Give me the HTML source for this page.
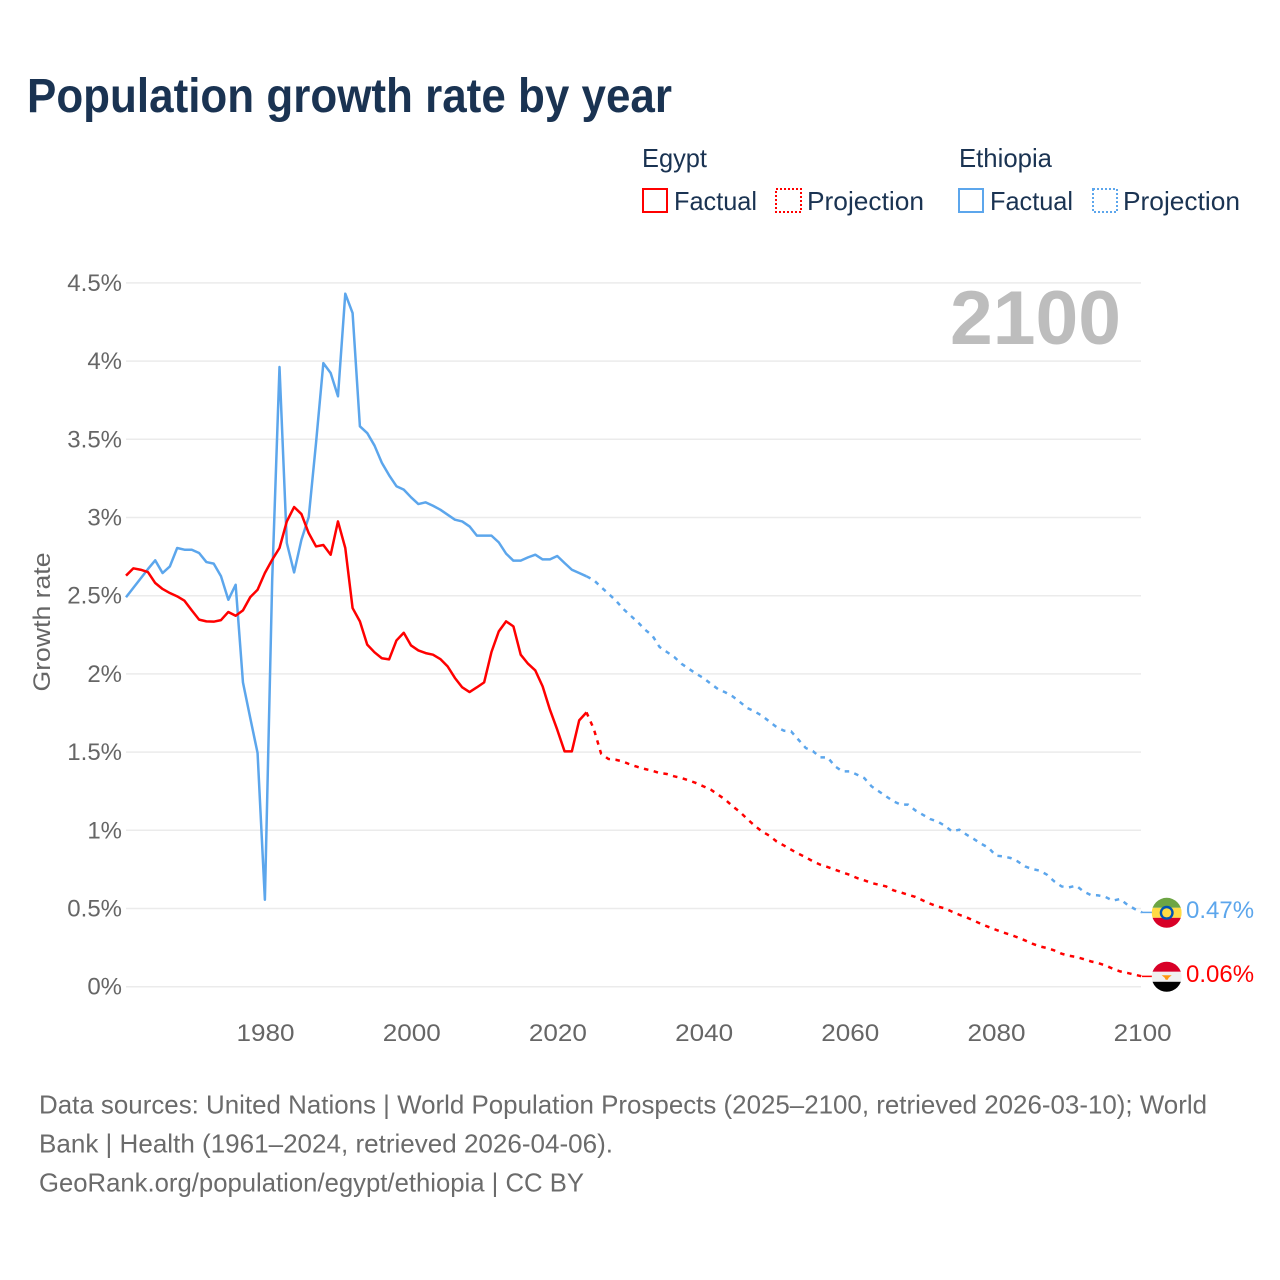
<!DOCTYPE html>
<html lang="en">
<head>
<meta charset="utf-8">
<title>Population growth rate by year</title>
<style>
html,body{margin:0;padding:0;background:#fff;width:1280px;height:1280px;overflow:hidden}
svg{display:block}
text{font-family:"Liberation Sans",sans-serif}
.legend{font-size:26px;fill:#1a3352}
.foot{font-size:26px;fill:#6b6b6b}
.tick{font-size:24px;fill:#666}
</style>
</head>
<body>
<svg id="chart" xmlns="http://www.w3.org/2000/svg" width="1280" height="1280" viewBox="0 0 1280 1280">
<defs>
<clipPath id="flag-clip"><circle cx="0" cy="0" r="15"></circle></clipPath>
</defs>
<text x="27" y="112" font-size="48" font-weight="bold" fill="#1a3352" textLength="645" lengthAdjust="spacingAndGlyphs">Population growth rate by year</text>

<g>
<text class="legend" x="642" y="167" textLength="65" lengthAdjust="spacingAndGlyphs">Egypt</text>
<text class="legend" x="959" y="167" textLength="93" lengthAdjust="spacingAndGlyphs">Ethiopia</text>
<rect x="643" y="189" width="24" height="23" fill="none" stroke="#ff0000" stroke-width="2"></rect>
<text class="legend" x="674" y="210" textLength="83" lengthAdjust="spacingAndGlyphs">Factual</text>
<rect x="776" y="189" width="25" height="23" fill="none" stroke="#ff0000" stroke-width="2" stroke-dasharray="2 2"></rect>
<text class="legend" x="807" y="210" textLength="117" lengthAdjust="spacingAndGlyphs">Projection</text>
<rect x="959" y="189" width="24" height="23" fill="none" stroke="#5ca6ec" stroke-width="2"></rect>
<text class="legend" x="990" y="210" textLength="83" lengthAdjust="spacingAndGlyphs">Factual</text>
<rect x="1093" y="189" width="24" height="23" fill="none" stroke="#5ca6ec" stroke-width="2" stroke-dasharray="2 2"></rect>
<text class="legend" x="1123" y="210" textLength="117" lengthAdjust="spacingAndGlyphs">Projection</text>
</g>

<g id="grid"></g>
<g id="y-ticks"></g>
<g id="x-ticks"></g>

<text transform="translate(50,622) rotate(-90)" text-anchor="middle" font-size="24" fill="#666" textLength="139" lengthAdjust="spacingAndGlyphs">Growth rate</text>
<text x="950" y="344" font-size="76" font-weight="bold" fill="#bdbdbd" textLength="171" lengthAdjust="spacingAndGlyphs">2100</text>

<path id="ethiopia-factual-line" fill="none" stroke="#5ca6ec" stroke-width="2.5" stroke-linejoin="round"></path>
<path id="ethiopia-projection-line" fill="none" stroke="#5ca6ec" stroke-width="2.5" stroke-dasharray="4.5 5.5"></path>
<path id="ethiopia-connector" fill="none" stroke="#5ca6ec" stroke-width="1.5"></path>
<path id="egypt-factual-line" fill="none" stroke="#ff0000" stroke-width="2.5" stroke-linejoin="round"></path>
<path id="egypt-projection-line" fill="none" stroke="#ff0000" stroke-width="2.5" stroke-dasharray="4.5 5.5"></path>
<path id="egypt-connector" fill="none" stroke="#ff0000" stroke-width="1.5"></path>

<g id="flag-ethiopia">
<g clip-path="url(#flag-clip)">
<rect x="-15" y="-16" width="30" height="11" fill="#6da544"></rect>
<rect x="-15" y="-5" width="30" height="10" fill="#ffda44"></rect>
<rect x="-15" y="5" width="30" height="11" fill="#d80027"></rect>
<circle r="7" fill="#0052b4"></circle>
<circle r="4.6" fill="#ffda44"></circle>
</g>
</g>
<g id="flag-egypt">
<g clip-path="url(#flag-clip)">
<rect x="-15" y="-16" width="30" height="11" fill="#d80027"></rect>
<rect x="-15" y="-5" width="30" height="10" fill="#f0f0f0"></rect>
<rect x="-15" y="5" width="30" height="11" fill="#000000"></rect>
<path d="M-5 -1.5 L5 -1.5 L2 1 L1 3 L-1 3 L-2 1 Z" fill="#ff9811"></path>
</g>
</g>
<text id="label-ethiopia" x="1186" font-size="24" fill="#5ca6ec"></text>
<text id="label-egypt" x="1186" font-size="24" fill="#ff0000"></text>

<g>
<text class="foot" x="39" y="1113.5" textLength="1168" lengthAdjust="spacingAndGlyphs">Data sources: United Nations | World Population Prospects (2025–2100, retrieved 2026-03-10); World</text>
<text class="foot" x="39" y="1152.5" textLength="574" lengthAdjust="spacingAndGlyphs">Bank | Health (1961–2024, retrieved 2026-04-06).</text>
<text class="foot" x="39" y="1191.5" textLength="545" lengthAdjust="spacingAndGlyphs">GeoRank.org/population/egypt/ethiopia | CC BY</text>
</g>
</svg>

<script>
// Chart data ------------------------------------------------------------
const yTickValues = [0, 0.5, 1, 1.5, 2, 2.5, 3, 3.5, 4, 4.5];
const yTickLabels = ["0%", "0.5%", "1%", "1.5%", "2%", "2.5%", "3%", "3.5%", "4%", "4.5%"];
const xTickYears = [1980, 2000, 2020, 2040, 2060, 2080, 2100];
const factualStartYear = 1961;
const projectionStartYear = 2025;
const egyptEndLabel = "0.06%";
const ethiopiaEndLabel = "0.47%";

const egyptFactual = [
  2.628, 2.675, 2.666, 2.651, 2.581, 2.543, 2.517, 2.496, 2.468, 2.406,
  2.347, 2.336, 2.334, 2.344, 2.396, 2.372, 2.406, 2.491, 2.538, 2.645,
  2.73, 2.805, 2.975, 3.067, 3.022, 2.9, 2.815, 2.824, 2.762, 2.975,
  2.805, 2.421, 2.336, 2.187, 2.138, 2.1, 2.093, 2.214, 2.263, 2.182,
  2.15, 2.133, 2.123, 2.095, 2.048, 1.974, 1.914, 1.884, 1.914, 1.946,
  2.14, 2.272, 2.336, 2.304, 2.123, 2.065, 2.022, 1.92, 1.771, 1.643,
  1.505, 1.505, 1.703, 1.754
];
const egyptProjection = [
  1.648, 1.49, 1.456, 1.451, 1.44, 1.42, 1.405, 1.392, 1.381, 1.366,
  1.36, 1.345, 1.334, 1.319, 1.302, 1.281, 1.26, 1.228, 1.196, 1.153,
  1.117, 1.072, 1.03, 0.993, 0.966, 0.929, 0.903, 0.876, 0.85, 0.827,
  0.801, 0.78, 0.765, 0.748, 0.731, 0.716, 0.695, 0.68, 0.663, 0.652,
  0.641, 0.616, 0.603, 0.588, 0.574, 0.552, 0.531, 0.513, 0.501, 0.48,
  0.46, 0.443, 0.422, 0.401, 0.382, 0.364, 0.347, 0.332, 0.315, 0.296,
  0.275, 0.258, 0.247, 0.232, 0.211, 0.198, 0.19, 0.177, 0.162, 0.151,
  0.136, 0.115, 0.098, 0.088, 0.077, 0.066
];
const ethiopiaFactual = [
  2.49, 2.55, 2.61, 2.67, 2.726, 2.645, 2.687, 2.805, 2.794, 2.794,
  2.773, 2.715, 2.705, 2.624, 2.474, 2.57, 1.946, 1.718, 1.494, 0.556,
  2.6, 3.962, 2.837, 2.649, 2.858, 3.003, 3.478, 3.987, 3.924, 3.775,
  4.431, 4.307, 3.583, 3.54, 3.46, 3.35, 3.27, 3.2, 3.178, 3.129,
  3.086, 3.097, 3.075, 3.05, 3.018, 2.986, 2.975, 2.943, 2.884, 2.884,
  2.884, 2.841, 2.769, 2.724, 2.724, 2.745, 2.762, 2.732, 2.732, 2.754,
  2.709, 2.666, 2.645, 2.624
];
const ethiopiaProjection = [
  2.6, 2.555, 2.513, 2.47, 2.417, 2.374, 2.332, 2.283, 2.246, 2.172,
  2.14, 2.108, 2.065, 2.033, 2.001, 1.974, 1.937, 1.903, 1.882, 1.856,
  1.82, 1.782, 1.76, 1.733, 1.696, 1.66, 1.637, 1.632, 1.579, 1.526,
  1.505, 1.466, 1.466, 1.409, 1.377, 1.377, 1.356, 1.334, 1.281, 1.249,
  1.217, 1.185, 1.164, 1.164, 1.127, 1.1, 1.072, 1.057, 1.03, 0.993,
  1.004, 0.972, 0.944, 0.914, 0.889, 0.838, 0.833, 0.823, 0.801, 0.769,
  0.752, 0.742, 0.716, 0.673, 0.641, 0.635, 0.646, 0.609, 0.586, 0.584,
  0.574, 0.55, 0.561, 0.524, 0.497, 0.475
];

// Axis functions --------------------------------------------------------
const SVG_NS = "http://www.w3.org/2000/svg";
function xScale(year) { return 126 + (year - 1961) * (1142 - 126) / (2100 - 1961); }
function yScale(rate) { return 986.7 - rate * 156.4; }

function linePath(startYear, values, prefixYear, prefixValue) {
  const parts = [];
  if (prefixYear !== undefined) {
    parts.push(xScale(prefixYear).toFixed(2) + " " + yScale(prefixValue).toFixed(2));
  }
  values.forEach(function (v, i) {
    parts.push(xScale(startYear + i).toFixed(2) + " " + yScale(v).toFixed(2));
  });
  return "M" + parts.join("L");
}

// Gridlines and ticks ---------------------------------------------------
const gridGroup = document.getElementById("grid");
const yTickGroup = document.getElementById("y-ticks");
const xTickGroup = document.getElementById("x-ticks");

yTickValues.forEach(function (value, i) {
  const line = document.createElementNS(SVG_NS, "line");
  
  
  line.setAttribute("x1", 126);
  line.setAttribute("x2", 1141);
  line.setAttribute("y1", yScale(value));
  line.setAttribute("y2", yScale(value));
  line.setAttribute("stroke", "#ebebeb");
  line.setAttribute("stroke-width", "1.5");
  gridGroup.appendChild(line);

  const label = document.createElementNS(SVG_NS, "text");
  
  
  label.setAttribute("class", "tick");
  label.setAttribute("x", 122);
  label.setAttribute("y", yScale(value) + 8);
  label.setAttribute("text-anchor", "end");
  label.textContent = yTickLabels[i];
  yTickGroup.appendChild(label);
});

xTickYears.forEach(function (year) {
  const label = document.createElementNS(SVG_NS, "text");
  
  
  label.setAttribute("class", "tick");
  label.setAttribute("x", xScale(year) + 0.7);
  label.setAttribute("y", 1041);
  label.setAttribute("text-anchor", "middle");
  label.setAttribute("textLength", "58");
  label.setAttribute("lengthAdjust", "spacingAndGlyphs");
  label.textContent = String(year);
  xTickGroup.appendChild(label);
});

// Series ----------------------------------------------------------------
function drawSeries(prefix, factual, projection, endLabel) {
  const lastFactualYear = factualStartYear + factual.length - 1;
  const lastFactual = factual[factual.length - 1];
  const lastYear = projectionStartYear + projection.length - 1;
  const lastValue = projection[projection.length - 1];
  document.getElementById(prefix + "-factual-line").setAttribute("d", linePath(factualStartYear, factual));
  document.getElementById(prefix + "-projection-line").setAttribute("d", linePath(projectionStartYear, projection, lastFactualYear, lastFactual));
  const endX = xScale(lastYear);
  const endY = yScale(lastValue);
  document.getElementById(prefix + "-connector").setAttribute("d", "M" + endX + " " + endY + "L1152 " + endY);
  document.getElementById("flag-" + prefix).setAttribute("transform", "translate(1166.7," + (endY + 0.4) + ")");
  const label = document.getElementById("label-" + prefix);
  label.setAttribute("y", endY + 5.8);
  label.textContent = endLabel;
}
drawSeries("ethiopia", ethiopiaFactual, ethiopiaProjection, ethiopiaEndLabel);
drawSeries("egypt", egyptFactual, egyptProjection, egyptEndLabel);
</script>
</body>
</html>
